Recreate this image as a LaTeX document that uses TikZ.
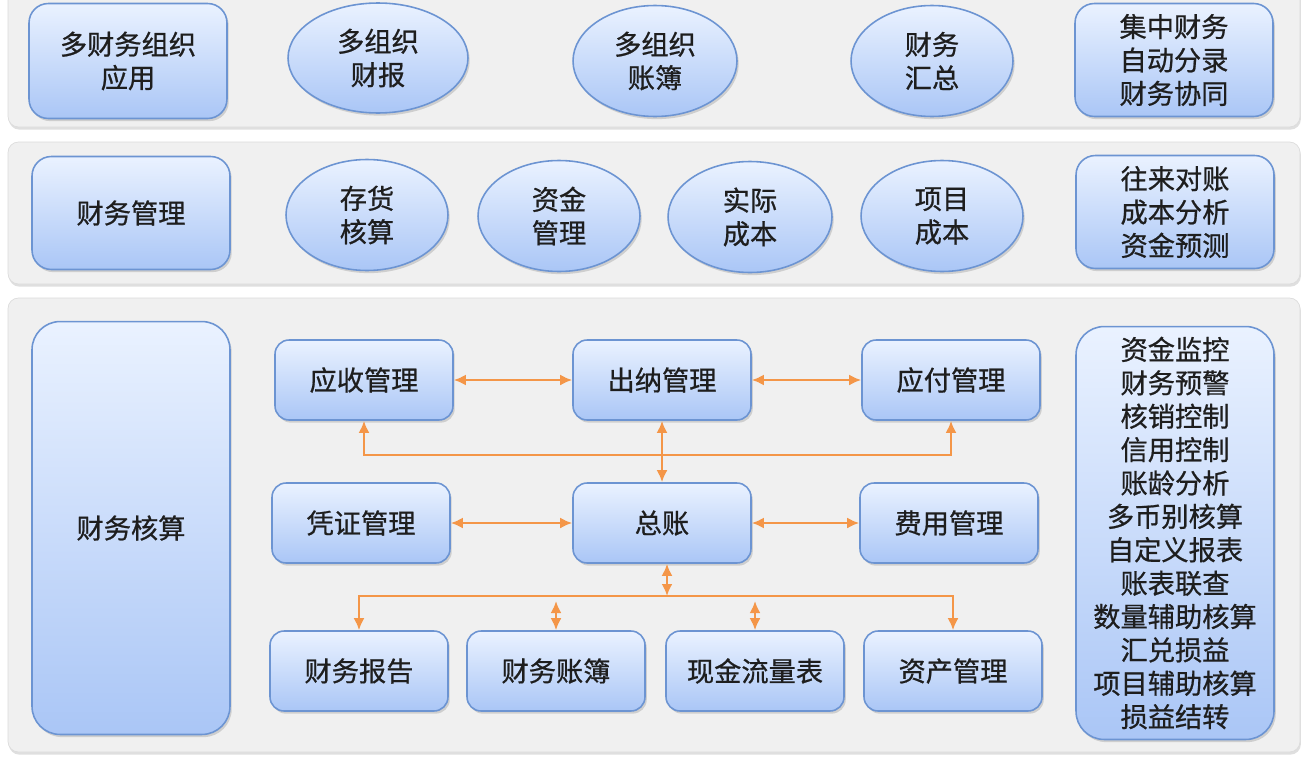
\documentclass[tikz,border=0pt]{standalone}
\usepackage{fontspec}
\setmainfont{Noto Sans CJK SC}[FakeBold=0.7]
\usepackage{tikz}
\usetikzlibrary{shapes.geometric,arrows.meta,shadows}
\definecolor{boxtop}{RGB}{234,242,255}
\definecolor{boxbottom}{RGB}{170,198,246}
\definecolor{boxedge}{RGB}{108,148,210}
\definecolor{panelgray}{RGB}{240,240,240}
\definecolor{paneledge}{RGB}{220,220,220}
\definecolor{linkorange}{RGB}{244,150,72}
\definecolor{textdark}{RGB}{30,30,30}

\begin{document}
\begin{tikzpicture}[x=0.02cm, y=-0.02cm,
    every node/.style={font=\fontsize{15.5pt}{19pt}\selectfont, text=textdark, align=center},
    panel/.style={fill=panelgray, draw=paneledge, rounded corners=6pt,
        drop shadow={shadow xshift=0.5pt, shadow yshift=-1.5pt, opacity=0.25}},
    module/.style={draw=boxedge, line width=0.9pt, top color=boxtop, bottom color=boxbottom,
        rounded corners=8pt, inner sep=1pt, minimum width=3.56cm, minimum height=1.6cm,
        drop shadow={shadow xshift=1pt, shadow yshift=-1.5pt, opacity=0.3}},
    bigmodule/.style={module, rounded corners=11pt, minimum width=3.96cm, minimum height=2.26cm},
    oval/.style={module, ellipse, inner sep=0pt, minimum width=3.24cm, minimum height=2.22cm},
    link/.style={draw=linkorange, line width=1.5pt, {Latex[length=2.4mm,width=2.2mm]}-{Latex[length=2.4mm,width=2.2mm]}}
]
    \useasboundingbox (0,0) rectangle (1307,764);
    \fill[white] (0,0) rectangle (1307,764);

    \draw[panel] (8,-20) rectangle (1300,127);
    \draw[panel] (8,142) rectangle (1300,284);
    \draw[panel] (8,298) rectangle (1300,752);

    \node[bigmodule, minimum height=2.3cm] (multiorg) at (128,61) {多财务组织\\应用};
    \node[oval, minimum width=3.6cm, minimum height=2.2cm] (orgreport) at (378,58) {多组织\\财报};
    \node[oval, minimum width=3.28cm] (orgbooks) at (655,61) {多组织\\账簿};
    \node[oval] (finsum) at (932,61) {财务\\汇总};
    \node[bigmodule] (central) at (1174,60) {集中财务\\自动分录\\财务协同};

    \node[bigmodule] (finmgmt) at (131,213) {财务管理};
    \node[oval] (stock) at (367,215) {存货\\核算};
    \node[oval] (fund) at (559,216) {资金\\管理};
    \node[oval, minimum width=3.28cm] (actual) at (750,217) {实际\\成本};
    \node[oval] (project) at (942,216) {项目\\成本};
    \node[bigmodule] (analysis) at (1175,212) {往来对账\\成本分析\\资金预测};

    \node[bigmodule, minimum height=8.26cm, rounded corners=16pt] (acct) at (131,528) {财务核算};
    \node[bigmodule, minimum height=8.26cm, rounded corners=16pt] (features) at (1175,533)
        {资金监控\\财务预警\\核销控制\\信用控制\\账龄分析\\多币别核算\\自定义报表\\账表联查\\数量辅助核算\\汇兑损益\\项目辅助核算\\损益结转};

    \node[module] (ar) at (364,380) {应收管理};
    \node[module] (cash) at (662,380) {出纳管理};
    \node[module] (ap) at (951,380) {应付管理};
    \node[module] (voucher) at (361,523) {凭证管理};
    \node[module] (gl) at (662,523) {总账};
    \node[module] (fee) at (949,523) {费用管理};
    \node[module] (report) at (359,671) {财务报告};
    \node[module] (books) at (556,671) {财务账簿};
    \node[module] (cashflow) at (755,671) {现金流量表};
    \node[module] (asset) at (953,671) {资产管理};

    \coordinate (upperbus) at (0,455);
    \coordinate (lowerbus) at (0,596);
    \coordinate (stubs) at (0,601);

    \draw[link] (ar) -- (cash);
    \draw[link] (cash) -- (ap);
    \draw[link] (voucher) -- (gl);
    \draw[link] (gl) -- (fee);
    \draw[link] (cash) -- (gl);
    \draw[link] (ar.south) -- (ar.south |- upperbus) -- (ap.south |- upperbus) -- (ap.south);
    \draw[link] ([xshift=0.1cm]gl.south) -- ([xshift=0.1cm]gl.south |- lowerbus);
    \draw[link] (report.north) -- (report.north |- lowerbus) -- (asset.north |- lowerbus) -- (asset.north);
    \draw[link] (books.north) -- (books.north |- stubs);
    \draw[link] (cashflow.north) -- (cashflow.north |- stubs);
\end{tikzpicture}
\end{document}
